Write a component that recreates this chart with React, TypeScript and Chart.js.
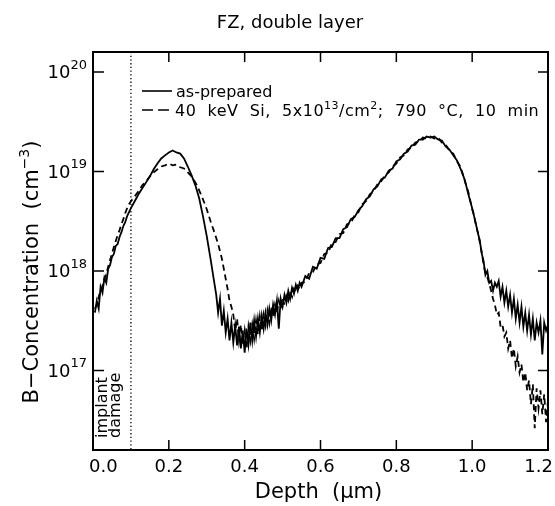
import React, { useEffect, useRef } from "react";
import { Chart, registerables } from "chart.js";

Chart.register(...registerables);

// Depth (µm)
const depth = [
  0.005, 0.01, 0.015, 0.02, 0.025, 0.03, 0.035, 0.04, 0.045, 0.05, 0.055, 0.06, 0.065, 0.07, 0.075, 0.08, 0.085, 0.09, 0.095, 0.1,
  0.11, 0.12, 0.13, 0.14, 0.15, 0.16, 0.17, 0.18, 0.19, 0.2, 0.21, 0.22, 0.23, 0.24, 0.25, 0.26, 0.27, 0.28, 0.29, 0.3, 0.31, 0.32,
  0.325, 0.33, 0.335, 0.34, 0.345, 0.35, 0.355, 0.36, 0.365, 0.37, 0.375, 0.38, 0.385, 0.39, 0.395, 0.4, 0.405, 0.41, 0.415, 0.42,
  0.425, 0.43, 0.435, 0.44, 0.445, 0.45, 0.455, 0.46, 0.465, 0.47, 0.475, 0.48, 0.485, 0.49, 0.495, 0.5, 0.505, 0.51, 0.515, 0.52,
  0.525, 0.53, 0.535, 0.54, 0.545, 0.55,
  0.56, 0.57, 0.58, 0.59, 0.6, 0.61, 0.62, 0.63, 0.64, 0.65, 0.66, 0.67, 0.68, 0.69, 0.7, 0.71, 0.72, 0.73, 0.74, 0.75, 0.76, 0.77,
  0.78, 0.79, 0.8, 0.81, 0.82, 0.83, 0.84, 0.85, 0.86, 0.87, 0.88, 0.89, 0.9, 0.91, 0.92, 0.93, 0.94, 0.95, 0.96, 0.97, 0.98, 0.99, 1.0,
  1.005, 1.01, 1.015, 1.02, 1.025, 1.03, 1.035, 1.04, 1.045, 1.05, 1.055, 1.06, 1.065, 1.07, 1.075, 1.08, 1.085, 1.09, 1.095, 1.1,
  1.105, 1.11, 1.115, 1.12, 1.125, 1.13, 1.135, 1.14, 1.145, 1.15, 1.155, 1.16, 1.165, 1.17, 1.175, 1.18, 1.185, 1.19, 1.195, 1.2,
];

// B concentration (cm^-3), as-prepared (solid)
const asPrepared = [
  3.80e17, 5.01e17, 4.17e17, 6.92e17, 6.03e17, 8.51e17, 7.59e17, 1.05e18, 1.15e18, 1.38e18, 1.48e18, 1.78e18, 1.86e18, 2.19e18, 2.45e18, 2.82e18, 3.09e18, 3.55e18, 3.89e18, 4.27e18,
  5.01e18, 5.89e18, 6.76e18, 7.76e18, 8.91e18, 1.05e19, 1.20e19, 1.35e19, 1.45e19, 1.55e19, 1.62e19, 1.55e19, 1.51e19, 1.35e19, 1.12e19, 9.12e18, 7.24e18, 5.37e18, 3.55e18, 2.24e18, 1.32e18, 7.59e17,
  5.75e17, 3.80e17, 5.25e17, 2.82e17, 3.98e17, 2.40e17, 3.31e17, 2.00e17, 3.02e17, 1.91e17, 2.82e17, 1.78e17, 2.75e17, 1.66e17, 2.51e17, 1.51e17, 2.63e17, 1.82e17, 3.02e17, 2.00e17,
  3.16e17, 2.19e17, 3.31e17, 2.40e17, 3.55e17, 2.63e17, 3.80e17, 2.88e17, 4.17e17, 3.16e17, 4.57e17, 3.63e17, 5.01e17, 2.63e17, 5.25e17, 4.37e17, 5.75e17, 4.79e17, 6.31e17, 5.25e17,
  6.76e17, 5.89e17, 7.24e17, 6.31e17, 7.59e17, 6.92e17,
  8.91e17, 8.32e17, 1.10e18, 1.05e18, 1.35e18, 1.32e18, 1.70e18, 1.74e18, 2.14e18, 2.14e18, 2.63e18, 2.75e18, 3.31e18, 3.47e18, 4.07e18, 4.47e18, 5.25e18, 5.62e18, 6.61e18, 7.08e18, 8.32e18, 8.71e18,
  1.02e19, 1.07e19, 1.26e19, 1.32e19, 1.51e19, 1.58e19, 1.82e19, 1.86e19, 2.09e19, 2.09e19, 2.24e19, 2.19e19, 2.24e19, 2.09e19, 2.04e19, 1.78e19, 1.66e19, 1.45e19, 1.29e19, 1.05e19, 8.32e18, 5.89e18, 4.27e18,
  3.55e18, 2.95e18, 2.40e18, 2.04e18, 1.51e18, 1.26e18, 9.12e17, 1.00e18, 7.59e17, 7.94e17, 6.31e17, 7.59e17, 6.92e17, 7.94e17, 5.50e17, 6.92e17, 4.79e17, 6.31e17, 4.37e17, 5.75e17,
  3.80e17, 5.25e17, 3.31e17, 4.57e17, 3.02e17, 4.37e17, 2.75e17, 3.80e17, 2.51e17, 3.63e17, 2.29e17, 3.31e17, 2.00e17, 3.02e17, 2.40e17, 3.16e17, 1.45e17, 3.02e17, 2.51e17, 2.88e17,
];

// B concentration (cm^-3), 40 keV Si implanted + annealed (dashed)
const annealed = [
  4.17e17, 4.57e17, 5.50e17, 6.31e17, 7.08e17, 8.32e17, 9.33e17, 1.10e18, 1.29e18, 1.48e18, 1.74e18, 2.00e18, 2.29e18, 2.57e18, 2.95e18, 3.31e18, 3.80e18, 4.27e18, 4.68e18, 5.01e18,
  5.62e18, 6.31e18, 7.24e18, 7.94e18, 8.91e18, 9.77e18, 1.05e19, 1.12e19, 1.15e19, 1.20e19, 1.15e19, 1.17e19, 1.10e19, 1.07e19, 9.77e18, 8.91e18, 7.76e18, 6.46e18, 5.25e18, 4.17e18, 3.16e18, 2.45e18,
  2.14e18, 1.86e18, 1.58e18, 1.32e18, 1.05e18, 8.32e17, 6.61e17, 5.01e17, 4.37e17, 3.63e17, 2.51e17, 3.31e17, 2.00e17, 2.88e17, 1.82e17, 2.51e17, 1.66e17, 2.75e17, 2.00e17, 2.88e17,
  2.09e17, 3.16e17, 2.29e17, 3.47e17, 2.51e17, 3.63e17, 2.82e17, 3.98e17, 3.02e17, 4.37e17, 3.47e17, 4.57e17, 3.80e17, 5.01e17, 4.17e17, 5.25e17, 4.57e17, 5.62e17, 5.01e17, 6.17e17,
  5.50e17, 6.61e17, 6.17e17, 7.08e17, 6.61e17, 7.59e17,
  7.76e17, 9.55e17, 9.77e17, 1.17e18, 1.20e18, 1.48e18, 1.51e18, 1.91e18, 1.95e18, 2.34e18, 2.40e18, 2.95e18, 3.02e18, 3.63e18, 3.89e18, 4.68e18, 5.01e18, 5.89e18, 6.31e18, 7.41e18, 7.94e18, 9.12e18,
  9.77e18, 1.12e19, 1.20e19, 1.38e19, 1.45e19, 1.66e19, 1.74e19, 1.95e19, 2.00e19, 2.19e19, 2.14e19, 2.24e19, 2.14e19, 2.19e19, 1.95e19, 1.86e19, 1.62e19, 1.51e19, 1.26e19, 1.10e19, 8.13e18, 6.17e18, 4.17e18,
  3.63e18, 2.88e18, 2.45e18, 1.95e18, 1.55e18, 1.17e18, 9.33e17, 8.71e17, 7.41e17, 6.31e17, 5.25e17, 4.57e17, 3.63e17, 3.80e17, 2.75e17, 2.88e17, 2.19e17, 2.40e17, 1.66e17, 2.00e17,
  1.32e17, 1.66e17, 1.10e17, 1.38e17, 9.55e16, 1.15e17, 7.59e16, 9.55e16, 6.31e16, 7.94e16, 4.57e16, 7.24e16, 2.63e16, 6.61e16, 4.17e16, 6.31e16, 3.63e16, 5.75e16, 3.02e16, 5.01e16,
];

const xMin = 0;
const xMax = 1.2;
const xStep = 0.2;
const yMin = 1.585e16;
const yMax = 1.585e20;
const damageDepth = 0.1;

const titleText = "FZ, double layer";
const xTitleText = "Depth  (μm)";
type Run = { t: string; sup?: boolean };
const yTitleRuns: Run[] = [{ t: "B−Concentration  (cm" }, { t: "−3", sup: true }, { t: ")" }];
const legendSolidText = "as-prepared";
const legendDashedRuns: Run[] = [
  { t: "40  keV  Si,  5x10" },
  { t: "13", sup: true },
  { t: "/cm" },
  { t: "2", sup: true },
  { t: ";  790  °C,  10  min" },
];
const damageLines = ["implant", "damage"];

const FONT = '"DejaVu Sans", sans-serif';

function runsWidth(ctx: CanvasRenderingContext2D, runs: Run[], size: number, supSize: number) {
  let w = 0;
  for (const r of runs) {
    ctx.font = `${r.sup ? supSize : size}px ${FONT}`;
    w += ctx.measureText(r.t).width;
  }
  return w;
}

function drawRuns(
  ctx: CanvasRenderingContext2D,
  runs: Run[],
  x: number,
  y: number,
  size: number,
  supSize: number,
  rise: number
) {
  let cx = x;
  ctx.textAlign = "left";
  ctx.textBaseline = "alphabetic";
  for (const r of runs) {
    ctx.font = `${r.sup ? supSize : size}px ${FONT}`;
    ctx.fillText(r.t, cx, r.sup ? y - rise : y);
    cx += ctx.measureText(r.t).width;
  }
}

const decorPlugin = {
  id: "decor",
  afterDatasetsDraw(chart: any) {
    const { ctx, chartArea: a, scales } = chart;
    const xs = scales.x;
    const ys = scales.y;
    ctx.save();
    ctx.fillStyle = "#000";
    ctx.strokeStyle = "#000";

    // implant damage dotted line
    const dx = xs.getPixelForValue(damageDepth);
    ctx.lineWidth = 1.3;
    ctx.setLineDash([1.3, 2.4]);
    ctx.beginPath();
    ctx.moveTo(dx, a.top);
    ctx.lineTo(dx, a.bottom);
    ctx.stroke();
    ctx.setLineDash([]);

    // frame
    ctx.lineWidth = 2;
    ctx.strokeRect(a.left, a.top, a.right - a.left, a.bottom - a.top);

    // x ticks (inward, bottom and top) + labels
    const xt = xs.ticks.map((t: any) => t.value);
    ctx.lineWidth = 1.5;
    ctx.textBaseline = "alphabetic";
    xt.forEach((v: number, i: number) => {
      const px = xs.getPixelForValue(v);
      ctx.beginPath();
      ctx.moveTo(px, a.bottom);
      ctx.lineTo(px, a.bottom - 10);
      ctx.moveTo(px, a.top);
      ctx.lineTo(px, a.top + 10);
      ctx.stroke();
      const label = v.toFixed(1);
      ctx.font = `18px ${FONT}`;
      if (i === 0) {
        ctx.textAlign = "left";
        ctx.fillText(label, px - 4, a.bottom + 22);
      } else if (i === xt.length - 1) {
        ctx.textAlign = "right";
        ctx.fillText(label, px + 5, a.bottom + 22);
      } else {
        ctx.textAlign = "center";
        ctx.fillText(label, px, a.bottom + 22);
      }
    });

    // y ticks (decades only, inward left and right) + labels
    const yt = ys.ticks
      .map((t: any) => t.value)
      .filter((v: number) => Math.abs(Math.log10(v) - Math.round(Math.log10(v))) < 1e-6);
    yt.forEach((v: number) => {
      const py = ys.getPixelForValue(v);
      ctx.beginPath();
      ctx.moveTo(a.left, py);
      ctx.lineTo(a.left + 11, py);
      ctx.moveTo(a.right, py);
      ctx.lineTo(a.right - 10, py);
      ctx.stroke();
      const exp = String(Math.round(Math.log10(v)));
      ctx.font = `13px ${FONT}`;
      const sw = ctx.measureText(exp).width;
      const right = a.left - 6;
      ctx.textAlign = "right";
      ctx.fillText(exp, right, py - 3);
      ctx.font = `18px ${FONT}`;
      ctx.fillText("10", right - sw, py + 6.5);
    });

    // title
    ctx.font = `18px ${FONT}`;
    ctx.textAlign = "center";
    ctx.fillText(titleText, 290, 28);

    // x title
    ctx.font = `21px ${FONT}`;
    ctx.textAlign = "center";
    ctx.fillText(xTitleText, (a.left + a.right) / 2 - 2, a.bottom + 48);

    // y title (rotated)
    ctx.save();
    ctx.translate(38, a.top + 220);
    ctx.rotate(-Math.PI / 2);
    const yw = runsWidth(ctx, yTitleRuns, 21, 14);
    drawRuns(ctx, yTitleRuns, -yw / 2, 0, 21, 14, 9);
    ctx.restore();

    // legend
    const lx = a.left + 49;
    const ly1 = a.top + 39;
    const ly2 = a.top + 58;
    ctx.lineWidth = 1.6;
    ctx.beginPath();
    ctx.moveTo(lx, ly1);
    ctx.lineTo(lx + 30, ly1);
    ctx.stroke();
    ctx.setLineDash([11, 5]);
    ctx.beginPath();
    ctx.moveTo(lx, ly2);
    ctx.lineTo(lx + 28, ly2);
    ctx.stroke();
    ctx.setLineDash([]);
    ctx.font = `16px ${FONT}`;
    ctx.textAlign = "left";
    ctx.fillText(legendSolidText, lx + 34, ly1 + 6);
    const c2: any = ctx;
    c2.letterSpacing = "0.5px";
    drawRuns(ctx, legendDashedRuns, lx + 33, ly2 + 6, 16, 11, 7);
    c2.letterSpacing = "0px";

    // implant damage label (rotated)
    ctx.font = `16px ${FONT}`;
    damageLines.forEach((s, i) => {
      ctx.save();
      ctx.translate(dx - 24 + i * 13, a.bottom - 12);
      ctx.rotate(-Math.PI / 2);
      ctx.textAlign = "left";
      ctx.fillText(s, 0, 0);
      ctx.restore();
    });

    ctx.restore();
  },
};

export default function App() {
  const ref = useRef<HTMLCanvasElement | null>(null);
  useEffect(() => {
    if (!ref.current) return;
    const chart = new Chart(ref.current, {
      type: "line",
      data: {
        datasets: [
          {
            label: "as-prepared",
            data: depth.map((d, i) => ({ x: d, y: asPrepared[i] })),
            borderColor: "#000",
            borderWidth: 1.8,
            pointRadius: 0,
            tension: 0,
            fill: false,
          },
          {
            label: "40 keV Si, 5x10^13/cm^2; 790 °C, 10 min",
            data: depth.map((d, i) => ({ x: d, y: annealed[i] })),
            borderColor: "#000",
            borderWidth: 1.8,
            borderDash: [6, 4],
            pointRadius: 0,
            tension: 0,
            fill: false,
          },
        ],
      },
      options: {
        animation: false,
        responsive: false,
        devicePixelRatio: 1,
        layout: { padding: { left: 93, right: 7, top: 52, bottom: 56 } },
        plugins: { legend: { display: false }, tooltip: { enabled: false }, title: { display: false } },
        scales: {
          x: {
            type: "linear",
            min: xMin,
            max: xMax,
            ticks: { display: false, stepSize: xStep },
            grid: { display: false, drawTicks: false, tickLength: 0 },
            border: { display: false },
            title: { display: false },
          },
          y: {
            type: "logarithmic",
            min: yMin,
            max: yMax,
            ticks: { display: false },
            grid: { display: false, drawTicks: false, tickLength: 0 },
            border: { display: false },
            title: { display: false },
          },
        },
      },
      plugins: [decorPlugin],
    });
    return () => chart.destroy();
  }, []);
  return (
    <div style={{ position: "fixed", left: 0, top: 0, width: 555, height: 506, background: "#fff" }}>
      <canvas ref={ref} width={555} height={506} style={{ display: "block" }} />
    </div>
  );
}
